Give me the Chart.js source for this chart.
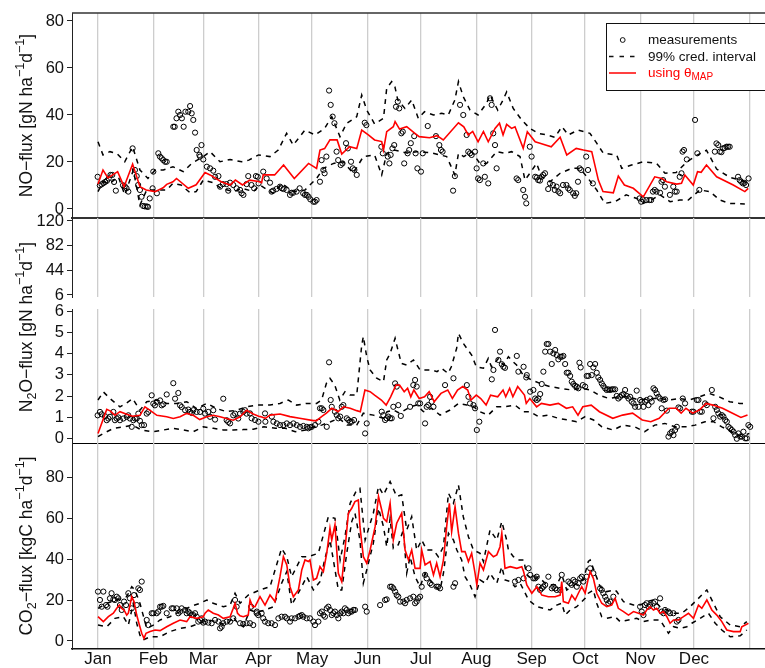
<!DOCTYPE html>
<html><head><meta charset="utf-8">
<script src="https://cdn.jsdelivr.net/npm/chart.js@4/dist/chart.umd.min.js"></script>
<style>
html,body{margin:0;padding:0;background:#fff;overflow:hidden;}
#wrap{position:relative;width:765px;height:668px;}
canvas{position:absolute;left:0;top:0;}
</style></head><body>
<div id="wrap">
<canvas id="cNO" width="765" height="668"></canvas>
<canvas id="cN2Ohi" width="765" height="668"></canvas>
<canvas id="cN2Olo" width="765" height="668"></canvas>
<canvas id="cCO2" width="765" height="668"></canvas>
</div>
<script>
// ---------------- DATA (day of year, value) ----------------
const monthLabels = ['Jan','Feb','Mar','Apr','May','Jun','Jul','Aug','Sep','Oct','Nov','Dec',''];
const monthStartDays = [0,31,59,90,120,151,181,212,243,273,304,334,365];
const noTicks = [0,20,40,60,80];
const n2oHiTicks = [6,44,82,120];
const n2oLoTicks = [0,1,2,3,4,5,6];
const co2Ticks = [0,20,40,60,80];
const legendLabels = ['measurements','99% cred. interval','using \u03b8','MAP'];

const noMAP = [[0,10.6],[2.8,16.6],[5.6,13.2],[11,15.9],[14.6,9.5],[19.4,19.1],[23.5,9.5],[27,8.1],[32,7.4],[36.5,9],[38.5,10.5],[42,11.6],[44,13],[50.6,8.8],[55,10.3],[60,15.5],[62.8,14.5],[69,11.6],[74,10.2],[77,12.3],[81,10.2],[85,12.3],[90,11.7],[91.7,11.2],[92.6,14.5],[99,14.5],[104,18.7],[110,13],[118,19.4],[122.5,17.3],[124.4,25.1],[127,25.7],[130,29.4],[134,29.4],[136.6,23.4],[141,26.5],[145,25.7],[147.8,33.6],[151.5,31.5],[155,29.4],[159,28.7],[160,25.1],[161.8,32.9],[165.5,35],[166.5,37.2],[169,34],[173,35],[177.6,32.2],[180,30.8],[185.8,30.3],[190,31.2],[193.5,29.4],[202,36.7],[205,35],[207.5,31.5],[210,33],[213,28.6],[216,33],[218.7,28.6],[222.5,34.3],[225,36.5],[227,31.5],[229,36],[231.8,34.3],[233.7,35],[238.3,25.8],[240.6,32.9],[245,28.6],[247.7,28],[254,26.5],[259,30.5],[262.7,23],[268,25.8],[272,25.1],[276.7,24.4],[280.4,12.3],[283,7.4],[288.8,6.9],[291.6,14],[295,10.2],[300,8.8],[305.6,5.2],[312,13.7],[316,13],[318.7,11.6],[324.3,10.6],[327,10.9],[328.9,14.5],[333.6,10.2],[336,15.9],[338,15.6],[341,18.7],[346.7,13.7],[356,10.2],[362.5,7.4],[364.4,8.8]];
const noUpper = [[0,28.6],[2.8,23],[6.7,24.4],[10.5,23.7],[15,20.1],[19.4,26.5],[23.5,16.6],[28,13],[32,16.6],[36.6,16.6],[42,18],[47.8,15.9],[52.5,19.4],[59,22.3],[62.8,24.4],[68.4,20.1],[74,21.1],[80.5,20.1],[84.5,20.8],[90,23],[96.4,22.3],[101,25.1],[105.7,32.2],[109.4,27.2],[116,33.6],[121.6,31.5],[127,34.3],[131,39.3],[135.6,30.8],[139.4,36.5],[145,39.3],[147.8,48.5],[150.6,42.1],[155,36.2],[160,38.6],[161.8,51.4],[164.6,54.2],[166.4,52],[168,46.4],[172,42.8],[175.8,46.4],[179.5,38.6],[183,41.4],[188,40],[192.6,40.7],[196.3,40],[200,46.4],[202,54.2],[204.7,47.8],[208.5,42.1],[213,40],[217.8,45],[219.7,48.5],[224,42.1],[227,46.4],[229,49.8],[232.7,42.8],[237.4,37.9],[242,34.3],[246.7,32.2],[251.5,31.5],[256,30.5],[260,35],[263.6,31.5],[269,33.6],[275.7,32.2],[279.5,28],[283.2,23.7],[290.7,23],[293.5,17.3],[299,18.7],[305.6,20.1],[313,19.4],[317.8,15.2],[324,15.5],[330,20],[336,23],[341,25],[346.7,17],[354,13.5],[363.6,11.5]];
const noLower = [[0,7.4],[2.8,11.6],[6.7,10.9],[11.4,13.7],[15,6],[19.8,16.6],[23.5,1.7],[27.3,8.1],[38.5,8.1],[42,10.9],[46.5,10.2],[51.6,6.9],[55,7.4],[59,12.3],[64.6,11.2],[69,8.8],[75.8,7.4],[81,8.8],[87,7.4],[90.8,10.2],[98,6.7],[103,10.9],[109.4,7.4],[116,8.1],[122.5,13],[126.3,17.3],[132,19.4],[137.5,20.1],[143,15.2],[148.7,22.3],[155,23],[159,14.5],[161.8,23.7],[166,25.1],[174,23.7],[178.6,24.4],[187,23.9],[195.4,22.3],[200,14.5],[202,23.7],[205,22.3],[209.4,24.4],[214,19.4],[217.8,19.4],[223.4,24.4],[228,23.7],[231.8,24.4],[236.5,22.3],[239.3,12.3],[242,15.2],[245.8,19.4],[248.6,13.7],[253.3,11.6],[259,15.2],[265.5,17.3],[270,17.3],[274,13.7],[279.5,8.1],[284,2.4],[289.7,3.1],[296,6],[302,4.5],[305.6,2.4],[310,3.8],[315,6],[320.6,3.1],[326,3.8],[330.8,3.8],[337.3,8.1],[342.9,7.4],[348.5,3.8],[354,2.4],[362.5,2.1]];
const noMeas = [[-0.2,13.7],[1,10],[2,10.5],[3,11],[4,11.5],[5,12],[6,13],[7,14.5],[8,14.5],[9,11.5],[10,7.8],[14,10.1],[15,9.7],[16,8.8],[17,7.4],[19.4,25.8],[20.7,16.6],[21.7,14],[22.5,10.2],[23.5,8.1],[24.4,5.2],[25.3,1.3],[26.3,1.1],[27.3,1.1],[28,0.9],[29,4.5],[30.6,8.8],[31,15.9],[33,6.7],[33.8,23.7],[34.7,22.3],[35.7,21.6],[36.6,20.8],[37.6,20.1],[38.5,20.1],[42.2,35],[43,35],[44,38.6],[45,41.4],[46,40],[47,38.6],[48,35],[49,41.4],[50.6,41.4],[51.6,43.8],[52.5,40.7],[53.4,37.9],[54.4,32.5],[55.3,25.1],[56.8,23],[57.2,22.3],[58,27.2],[59,21.1],[61,18],[62.8,17.3],[64.6,16.3],[65.6,13.7],[67.5,14],[68.4,9.5],[70,10.6],[72,10.6],[73,7.8],[74,11.2],[75.8,10.2],[77.7,8.8],[79.6,8.1],[80.5,6.7],[81.5,6],[83.3,10.6],[84.2,14],[86,10.2],[87.5,8.8],[88.5,14],[89.5,13.7],[90,10.9],[92.6,15.9],[94.5,13],[96.4,11.2],[97.3,7.4],[98.2,7.8],[100,8.5],[102,9.5],[103,8.8],[104,8.5],[105.7,8.1],[107.6,6],[108.5,6.9],[109.4,6.9],[111.3,7.4],[113,8.8],[115,6.7],[116,6],[117,6],[118,5.2],[119,4.1],[120.7,3.1],[121.6,3.1],[122.5,3.8],[124.4,11.6],[125.3,20.8],[126.3,16.6],[127,15.2],[128,22.3],[129.5,50.4],[130.4,44.3],[131.5,39.3],[132.5,36.5],[133.7,24.4],[134.6,20.8],[136,18.7],[137,19.4],[139,28],[140,25.8],[141.8,20.1],[142.8,17.3],[143.7,16.6],[145,14.5],[149.5,36.7],[150.4,35.7],[158.8,26.5],[159.6,23.7],[162.4,22.3],[163.3,19.4],[164,23],[165,25.8],[166,27.2],[167,43.5],[168,45.7],[168.8,42.8],[170,32.2],[170.8,32.9],[171.6,19.4],[173.5,23.7],[174.4,25.1],[175.3,28],[177.2,31],[178,23.7],[179,17.3],[181,15.9],[182,23.7],[184.8,35.3],[189.4,31],[191.3,27.2],[192.2,25.1],[193.1,24.4],[199,7.8],[200,14],[202.9,44.3],[204.7,40],[206.6,31.5],[207.5,24.4],[208.5,23.7],[209.4,23],[211.3,24.4],[212.2,17.3],[213,13],[214,12.3],[215.9,19.4],[216.8,13.7],[218.7,10.9],[219.7,47.1],[220.6,44.3],[221.5,32.2],[222.5,27.2],[223.4,17.3],[234.6,13],[235.5,12.3],[238.3,8.1],[239.3,5.2],[240,2.4],[242,26.5],[243,22.3],[245,13.7],[246,13.4],[246.7,12.3],[247.7,12.1],[248.6,13.7],[249.5,14.5],[250.5,15.2],[252.3,8.5],[253.3,10.9],[255,10.2],[256,8.1],[257,9.5],[258,7.4],[259,6.7],[260.6,10.2],[262.5,10.2],[263.5,8.8],[264.4,8.1],[266.3,6.7],[267.2,5.6],[268,6.7],[269,11.6],[269.9,17.3],[270.8,16.6],[273.6,22.3],[274.6,16.6],[277.3,10.9],[303.5,4.5],[304.4,3.1],[305.3,4.1],[307.3,3.8],[309,3.8],[310,3.8],[311,7.4],[312,8.1],[313,7.4],[315,6.9],[315.8,11.6],[316.7,12.3],[317.7,9.5],[320.5,6],[322.4,9.5],[323.3,7.4],[324.3,7.4],[326,13.7],[327,15.2],[327.6,24.4],[328.4,25.1],[330,21.1],[334.6,37.9],[335.9,23.7],[337,8.1],[345.7,24.4],[346.6,27.9],[347.6,27.2],[348.5,24.4],[349.4,24.2],[350.3,25.8],[351.2,26],[352.2,26.5],[353.1,26.5],[354,26.5],[358.7,13.7],[359.6,12.3],[360.5,11.6],[361.4,10.9],[362.3,11.1],[363.2,10.2],[364.6,13]];

const n2oMAP = [[0,0.25],[4.9,1.38],[7,1.3],[9.5,1.1],[12.3,1.27],[15.7,1.16],[19.4,1.06],[23.5,1.1],[26.3,1.5],[29,1.34],[33,1.1],[38.5,1.03],[42.2,0.95],[46,1.03],[49.7,1.19],[53.4,1.1],[57,0.9],[61,1.03],[64.6,1.1],[68.4,1.03],[72,0.95],[75.8,0.87],[79.6,1.03],[83.3,1.34],[87,1.16],[90,1.06],[91,1.04],[93.8,0.96],[96.4,1.11],[102,1.16],[107.6,1.04],[113,0.96],[120.7,0.85],[122.5,0.85],[125.3,1.04],[128,1.2],[131,1.43],[133,1.35],[134.5,1.27],[137.6,1.5],[141.3,1.43],[145,1.32],[147,1.27],[149.6,2.29],[152.5,2.21],[155,2.05],[158.8,1.82],[161.5,1.58],[164,1.97],[167,2.52],[169,2.52],[171.6,2.21],[173.5,2.37],[175.3,1.97],[177,2.29],[180,1.89],[183,1.97],[185.6,2.21],[188.4,1.74],[192.2,2.13],[196,2.29],[198.6,1.89],[201.5,2.29],[204.4,2.45],[207.2,2.29],[209,1.82],[212,2.05],[214.5,1.89],[217.5,1.58],[220,2.05],[224,1.97],[227,2.29],[228.5,1.97],[230.7,2.37],[232.5,1.97],[235.2,2.45],[239,2.05],[240,1.66],[242,1.89],[245.8,1.5],[248.5,1.66],[253.3,1.58],[258,1.66],[262.5,1.43],[266,1.5],[269,1.11],[271.7,1.5],[276.4,1.58],[281,1.27],[288.5,0.96],[294,1.11],[299.6,1.2],[305,0.88],[309.8,0.8],[314.5,0.96],[320,1.43],[324,1.43],[326.8,1.2],[329.5,1.43],[333.3,1.2],[337,1.35],[340.8,1.66],[344.6,1.58],[350,1.43],[355.6,1.2],[360.3,1.0],[364,1.11]];
const n2oUpper = [[0,1.82],[3,2.2],[6.7,1.89],[12.3,1.5],[15.7,1.66],[19.4,1.89],[23.5,1.34],[27.3,1.74],[33,1.82],[38.5,1.66],[44,1.66],[49.7,1.74],[55.3,1.42],[61,1.66],[66.5,1.42],[72,1.27],[77.7,1.34],[83.3,1.5],[89,1.58],[91,1.58],[96.4,1.58],[102,1.66],[106.7,1.82],[111.3,1.58],[117,1.66],[122.5,1.66],[125.3,1.82],[128,2.6],[130,2.84],[132.7,2.52],[135.5,1.82],[138.4,2.21],[141.3,2.05],[145,2.05],[147.8,4.4],[148.7,4.8],[150.6,3.85],[152.5,3.23],[156.2,2.84],[160,2.68],[161.8,3.7],[163.7,4.0],[166.5,4.72],[168.3,4.1],[170,3.54],[173,3.46],[176.8,3.7],[180.5,3.23],[184.3,3.23],[187,3.23],[190,3.15],[192.5,3.31],[196.2,3.07],[198,3.38],[201,4.25],[202,4.95],[204.7,4.48],[209.4,3.93],[212,3.38],[216,3.31],[218.7,3.77],[220.5,3.38],[224.4,3.77],[227.2,3.46],[230,3.85],[232.6,3.62],[234.6,3.46],[238.3,2.99],[243,2.76],[247.7,2.6],[253.3,2.45],[259,2.37],[265.5,2.29],[271.2,2.37],[276,2.29],[280.7,2.05],[286.3,1.89],[292,1.97],[297.5,1.97],[303,1.82],[308.7,1.89],[314.3,1.89],[320,1.82],[325.6,1.89],[331.2,1.82],[337,1.97],[342.5,2.13],[348,1.97],[354,1.74],[359.6,1.66],[364.3,1.66]];
const n2oLower = [[0,0.1],[3,0.25],[8.8,0.49],[14.4,0.56],[19.4,0.64],[24.4,0.41],[30.6,0.33],[36.6,0.41],[42.2,0.49],[47.8,0.41],[53.4,0.33],[59,0.56],[64.6,0.49],[70.2,0.41],[75.8,0.41],[81.5,0.43],[87,0.45],[93,0.56],[99.5,0.49],[105,0.49],[110.6,0.33],[116.3,0.41],[121,0.56],[125.3,0.64],[130.4,0.8],[135,0.96],[139.6,0.64],[145,0.64],[148.7,1.2],[154.3,1.11],[160,0.96],[162,1.27],[165.5,1.35],[169,1.2],[175,1.5],[178.6,1.58],[182.4,1.27],[187,1.43],[191.7,1.11],[197.3,1.35],[202,1.66],[206.6,1.58],[209.4,1.58],[214,1.27],[218.7,1.11],[223.4,1.5],[228,1.5],[233.7,1.58],[238.5,1.27],[242,1.27],[246.8,1.04],[252.4,1.11],[258,0.96],[263.6,0.88],[268.2,0.8],[273,1.04],[277.7,0.88],[282.4,0.56],[288.7,0.41],[294.3,0.64],[300.8,0.56],[306.4,0.33],[312,0.64],[317.7,0.72],[323.3,0.56],[329.9,0.56],[334.6,0.64],[340.2,0.8],[345,0.8],[349.6,0.56],[355,0.33],[360.6,0.1],[365,0.25]];
const n2oMeas = [[-0.2,1.1],[1.1,1.26],[2.1,1.15],[3.9,1.06],[4.9,0.87],[5.8,0.95],[6.7,1.03],[8.6,1.26],[9.5,0.87],[10.5,0.95],[11.4,1.0],[12.3,0.87],[14.2,0.95],[16.1,1.03],[17,1.1],[17.9,0.95],[18.9,0.56],[19.8,0.87],[20.7,0.95],[21.7,0.95],[22.6,1.18],[23.5,0.84],[24.5,0.64],[25.8,0.64],[27.3,1.18],[28.2,1.26],[30.1,2.04],[31,1.65],[31.9,1.57],[32.9,1.73],[34.8,1.8],[35.7,1.57],[36.6,1.62],[38.5,2.08],[42.2,2.61],[43.2,1.88],[45,2.15],[46,1.57],[46.9,1.49],[48.8,1.34],[50.6,1.37],[51.6,1.26],[52.5,1.21],[53.4,1.34],[55.3,1.26],[57.2,1.26],[59,1.41],[60,1.18],[61.8,1.26],[62.8,1.03],[64.6,1.34],[65.6,0.9],[70.2,1.88],[72.1,0.87],[73,0.79],[74,0.72],[75.8,1.1],[76.8,1.18],[78.6,0.95],[79.6,1.18],[81.4,1.26],[82.4,1.34],[83.3,1.18],[85.2,1.19],[86.1,0.96],[88,0.88],[89.9,0.8],[93.6,1.19],[93.8,0.8],[97.4,1.04],[98.3,0.8],[100.2,0.72],[102,0.64],[103.9,0.64],[105.8,0.72],[107.6,0.64],[109.5,0.72],[111.4,0.64],[113.2,0.56],[115.1,0.6],[117,0.56],[117.9,0.49],[118.8,0.54],[119.8,0.56],[121.6,0.64],[123.5,0.8],[124.4,1.43],[125.4,1.43],[126.3,1.35],[128.2,0.56],[129.5,3.59],[130.4,1.82],[131,1.5],[132.8,1.27],[133.8,1.11],[134.7,0.96],[135.7,1.04],[136.6,1.5],[137.5,1.58],[139.4,0.96],[140.3,0.88],[141.3,0.8],[142.2,0.8],[143.5,0.88],[149.7,0.25],[150.6,0.72],[159,1.27],[159.9,1.11],[160.9,0.88],[161.8,0.96],[162.7,1.04],[163.7,0.96],[164.6,0.96],[165.5,1.5],[166.5,2.6],[167.4,2.45],[168.3,1.58],[169.7,1.07],[174.9,1.5],[176.7,2.52],[177.7,2.76],[178.6,2.45],[179.5,1.66],[180.5,1.66],[183.3,0.72],[184.2,1.5],[185.1,1.58],[186.1,1.97],[187,1.74],[188,1.5],[194.5,2.52],[199.2,2.84],[206.7,2.52],[207.6,1.97],[208.5,1.66],[210.4,1.58],[211.3,1.43],[212.3,0.41],[213.7,0.8],[220.7,2.79],[221.6,3.23],[222.5,5.11],[224.4,3.7],[225.3,4.09],[226.3,3.5],[227.2,3.38],[228.1,3.33],[234.7,3.89],[235.6,3.15],[238.5,3.38],[240,2.88],[240.3,2.99],[242.2,2.21],[244,2.29],[245,1.89],[245.9,1.82],[246.8,1.89],[247.8,2.1],[248.7,2.57],[249.6,3.15],[250.6,4.09],[251.5,4.45],[252.4,4.45],[253.4,4.09],[254.3,3.51],[255.2,4.01],[256.2,4.17],[257.1,3.93],[258,3.73],[259,3.85],[259.9,3.85],[260.8,3.89],[261.8,3.51],[262.7,3.1],[263.6,3.1],[264.6,2.95],[265.5,2.68],[266.4,2.57],[267.4,2.48],[268.3,2.45],[269.2,2.37],[269.8,3.57],[270.5,3.35],[271.7,2.52],[273,2.45],[273.9,2.95],[274.8,2.95],[275.8,3.51],[276.7,2.99],[277.6,3.35],[278.6,3.51],[279.5,3.1],[280.4,2.88],[281.4,2.76],[282.3,2.6],[283.2,2.48],[284.2,2.37],[285.1,2.29],[286,2.32],[287,2.29],[287.9,2.32],[288.8,2.32],[289.8,2.32],[290.7,2.01],[291.6,1.89],[292.6,1.97],[293.5,2.05],[294.5,2.1],[295.4,2.29],[296.3,2.01],[297.3,1.89],[298.2,1.97],[299.1,1.74],[300.1,1.66],[301,1.5],[301.9,2.26],[302.9,1.5],[303.8,1.82],[304.7,1.74],[305.7,1.5],[306.6,1.74],[307.5,1.82],[308.5,1.58],[309.4,1.89],[310.3,1.74],[311.3,2.37],[312.2,2.29],[313.1,2.13],[314.1,1.97],[315,1.89],[315.9,1.43],[316.9,1.82],[317.8,1.85],[318.8,1.32],[319.7,0.1],[320.6,0.25],[321.6,0.33],[322.5,0.17],[323.4,0.41],[324.4,0.56],[325.3,1.47],[326.2,1.43],[327.7,1.89],[329,1.66],[332.8,1.27],[333.7,1.27],[335.6,1.82],[336.5,1.82],[337.4,1.27],[338.4,1.27],[340.2,1.66],[341.2,1.58],[344,2.29],[344.9,0.96],[345.9,1.5],[346.8,1.35],[347.7,1.19],[348.7,1.04],[349.6,1.11],[350.5,1.04],[351.5,0.88],[352.4,0.8],[353.3,0.56],[354.3,0.49],[355.2,0.41],[356.1,0.33],[357.1,0.17],[358,0],[358.9,0.25],[359.9,0.1],[360.8,0.1],[361.7,0.33],[362.7,0.02],[363.6,0.02],[364.5,0.64],[365.5,0.56]];

const co2MAP = [[0,11.9],[3,9.5],[5.8,11.9],[8.6,13.6],[10.5,16],[12,17.6],[13.3,16],[14.6,15.2],[16.1,12.7],[17,13.6],[18.9,21.7],[20.2,19.3],[21.7,12.7],[23.2,7.8],[24.5,3.8],[25.8,1.3],[26.9,3.8],[29.2,4.6],[32,5.4],[34.8,5.1],[38.5,7],[42.2,8.7],[46,10.3],[49.7,9.5],[51.6,11.9],[55.3,11.1],[59,11.9],[60,13.6],[61.8,15.2],[64.6,13.6],[67.5,12.7],[70.2,11.1],[74,11.9],[75.8,16],[76.8,18.5],[78.2,13.6],[79.6,12.3],[81.4,11.9],[84.2,12.7],[85.2,20.1],[86.7,16.8],[88,16.8],[90.8,21.7],[93.6,17.6],[96.4,22.5],[99.2,19.3],[102,31.5],[103.9,41.3],[105.8,37.3],[107.6,26.6],[109.5,21.7],[112.3,25],[114.2,34.8],[116,39.7],[117.9,38.9],[118.8,39.7],[120.7,29.9],[122.5,30.7],[124.4,36.4],[126.3,34],[128.2,43],[130,55.2],[131,49.5],[132.8,56.9],[134.7,33.2],[136.6,29.1],[138.4,44.6],[140.3,62.6],[142.2,65],[144,68.3],[145.9,69.1],[146.8,56],[148.7,41.3],[150.6,38.1],[152.5,44.6],[155.3,56],[157.2,70.8],[159,64.2],[160,60.1],[161.8,58.5],[163.7,67.5],[165.5,49.5],[167.4,57.7],[170.2,62.6],[172.1,44.6],[174,39.7],[175.8,44.6],[177.7,35.6],[180.5,35.6],[181.4,44.6],[183.3,37.3],[186.1,38.9],[188,32.4],[189.8,38.1],[191.7,31.5],[193.6,39.7],[195.4,56],[196.9,67.5],[198.2,53.6],[200.1,65.8],[202,52.8],[203.8,43.8],[205.7,43.8],[207.6,38.9],[209.4,43],[211.3,33.2],[212.3,27.5],[214.1,38.1],[216,34.8],[218.8,43.8],[221.6,41.3],[223.5,42.2],[225.3,46.2],[226.3,52.8],[228.1,35.6],[231,36.4],[234.7,35.6],[237.5,36.4],[238.5,34],[240.3,27.5],[243.1,23.4],[246,26.6],[248.7,22.5],[252.4,21.7],[256.2,21.7],[259,22.5],[259.9,29.1],[260.8,19.3],[263.6,18.5],[265.5,22.5],[267.4,20.1],[269.2,23.4],[271.1,26.6],[273,23.4],[274.8,30.7],[275.8,34],[277.6,30.7],[279.5,23.4],[282.3,18.5],[285.1,16.8],[287.9,17.6],[289.8,20.9],[291.6,16],[294.5,14.4],[297.3,12.7],[300.1,14.4],[302.9,13.6],[305.7,12.7],[307.5,15.2],[309.4,16.8],[311.3,15.2],[313.1,16],[315,13.6],[316.9,14.4],[318.8,11.9],[320.6,8.7],[322.5,10.3],[325.3,10.3],[328.1,11.9],[330.9,13.6],[333.7,11.1],[336.5,17.6],[338.4,16],[341.2,20.1],[344,15.2],[346.8,12.7],[349.6,9.5],[352.4,5.4],[356.1,4.6],[359.9,4.6],[360.8,7],[362.7,7.8],[364.5,8.7]];
const co2Upper = [[0,16],[4.9,18.5],[10.5,20.1],[16.1,21.7],[18.9,26.6],[20.7,25],[23.5,18.5],[27.3,6.2],[31,7.8],[34.8,10.3],[40.3,11.9],[46,14.4],[51.6,16.8],[57.2,18.5],[61,20.1],[64.6,18.5],[70.2,16.8],[74,17.6],[76.8,23.4],[79.6,18.5],[84.2,22.5],[90.8,25],[96.4,26.6],[102.9,45.4],[105.8,41.3],[108.5,31.5],[114.2,41.3],[117.9,41.3],[123.5,43],[129.1,60.9],[132.8,60.1],[135.7,39.7],[138.4,51.1],[141.3,67.5],[145,74],[146.8,74.8],[149.7,49.5],[154.3,62.6],[157.2,75.7],[160,71.6],[163.7,78.1],[167.4,70.8],[170.2,71.6],[173,54.4],[175.8,60.9],[178.6,44.6],[181.4,49.5],[184.2,44.6],[188,44.6],[190.7,41.3],[193.6,46.2],[196.4,72.4],[199.2,67.5],[202,76.5],[204.7,60.9],[207.6,51.1],[210.4,44.6],[214.1,43],[216,38.9],[219.7,54.4],[223.5,49.5],[226.3,58.5],[229,49.5],[230,44.6],[232.8,41.3],[235.6,39.7],[238.5,39.7],[240.3,32.4],[244,29.9],[246.8,31.5],[250.6,28.3],[253.4,27.5],[257.1,27.5],[259.9,32.4],[262.7,25],[265.5,26.6],[268.3,28.3],[272,29.9],[274.8,39],[275.8,39.7],[278.6,33.2],[281.4,26.6],[285.1,24.2],[289.8,25],[290.7,24.2],[294.5,19.3],[300.1,17.6],[303.8,17.6],[307.5,19.3],[311.3,20.1],[315,16.8],[318.8,15.2],[322.5,13.6],[327.2,13.6],[331.8,16.8],[335.6,20.1],[341.2,25],[344.9,18.5],[348.7,11.9],[354.3,7.8],[359.9,7],[363.6,9.5]];
const co2Lower = [[0,7.8],[4.9,7],[9.5,11.1],[14.2,11.9],[17,7.8],[19.8,18.5],[21.7,8.7],[23.5,2.9],[25.3,0.5],[29.2,2.1],[34.8,2.1],[40.3,4.6],[46,6.2],[51.6,7],[57.2,8.7],[61.8,10.3],[66.5,9.5],[72.1,7.8],[75.8,11.9],[77.7,9.5],[81.4,7],[85.2,15.2],[88.9,14],[93.6,15.2],[98.3,16.8],[102.9,28.3],[105.8,34],[108.5,17.6],[113.2,25],[117,31.5],[120.7,25],[124.4,29.1],[127.2,40.5],[130,49.5],[131.9,39.7],[134.7,25],[136.6,25],[139.4,43],[142.2,58.5],[144,62.6],[146.8,49.5],[148.7,28.3],[150.6,34.8],[154.3,47.9],[157.2,65],[160,56],[161.8,46.2],[163.7,60.1],[165.5,45.4],[168.3,47.1],[171.1,54.4],[173,33.2],[174.9,41.3],[177.7,31.5],[180.5,26.6],[183.3,33.2],[186.1,29.9],[189,26.6],[191.7,25],[193.6,33.2],[196.4,52.8],[199.2,49.5],[201.1,44.6],[203.8,39.7],[205.7,31.5],[208.5,27.5],[211.3,21.7],[214.1,29.9],[217,28.3],[219.7,33.2],[223.5,28.3],[226.3,36.4],[228.1,29.9],[231,29.1],[233.7,26.6],[236.6,28.3],[241.3,20.1],[245.9,16.8],[249.6,16],[253.4,15.2],[257.1,17.6],[259.9,18.5],[261.8,12.7],[264.6,15.2],[268.3,16.8],[273,20.9],[274.8,23.4],[277.6,25],[279.5,18.5],[282.3,11.9],[285.1,11.1],[289.8,11.9],[292.6,9.5],[297.3,10.3],[301.9,11.1],[305.7,9.5],[310.3,10.3],[315,10.3],[319.7,3.8],[322.5,7],[326.2,6.2],[330,7],[332.8,8.7],[337.4,11.1],[342.1,13.6],[345.9,8.7],[349.6,5.4],[354.3,2.1],[359.9,2.5],[363.6,5.4]];
const co2Meas = [[0,24.2],[1.1,20.1],[2.1,16.8],[3,24.2],[4.5,17.6],[5.3,16.8],[6.7,20.9],[7.6,23.4],[8.6,20.4],[9.5,20.1],[10.5,21.7],[11.4,20.9],[12.3,17.6],[13.3,15.2],[14.6,19.3],[15.7,17.6],[17,23.4],[17.9,20.9],[18.9,16],[20.2,22.5],[21.7,17.6],[22.6,25.8],[23.5,25],[24.5,29.1],[27.3,10.3],[28.2,7.8],[30.1,13.6],[31,13.6],[32.9,13.6],[33.8,14.4],[34.8,16.8],[35.7,16.8],[36.6,17.2],[38.5,13.6],[41.3,16],[42.2,16],[44.1,16],[45,13.6],[46,14.4],[46.9,16],[48.8,15.2],[49.7,13.6],[50.6,14.4],[51.6,13.6],[52.5,12.7],[53.4,12.7],[54.4,13.6],[55.3,11.9],[56.2,9.5],[57.2,10.3],[58.1,11.1],[59,9],[60,9.5],[61.8,9],[63.7,8.7],[65.6,10.3],[67.5,9.5],[68.4,6.2],[69.3,7],[70.2,8.7],[72.1,9.5],[74,9.5],[75.8,11.1],[76.8,20.1],[77.7,16.8],[79.6,8.7],[81.4,8.3],[83.3,8.7],[85.2,8.7],[87,7.8],[89,14.4],[85.8,16.8],[88.9,13.6],[89.8,12.7],[91.7,13.6],[92.6,11.1],[93.6,9.5],[95.4,8.7],[97.3,8.7],[99.2,7.8],[101.1,11.1],[102.9,11.9],[104.8,11.9],[105.8,11.1],[107.6,9.5],[108.5,11.1],[110.4,11.1],[112.3,11.9],[113.2,12.3],[114.2,12.7],[115.1,11.9],[117,11.1],[118.8,11.1],[120.7,9.5],[121.6,7.8],[123.5,9.5],[124.4,13.6],[125.4,14.4],[126.3,12.7],[127.2,11.9],[128.2,16],[129.1,16.8],[130,15.2],[131,12.7],[131.9,13.6],[132.8,14.4],[133.8,12.7],[134.7,11.1],[135.7,13.6],[136.6,14.4],[137.5,13.6],[138.4,16],[139.4,15.2],[140.3,13.6],[141.3,14.4],[142.2,14.4],[143.1,15.2],[144,15.2],[149.7,16.8],[150.6,14.4],[158.1,17.6],[160.9,20.1],[161.8,20.4],[163.7,26.6],[164.6,26.6],[165.5,25.8],[166.5,24.2],[167.4,22.5],[168.3,21.7],[169.3,19.3],[171.1,19.3],[172.1,18.5],[173,20.1],[174.9,20.9],[176.7,21.7],[177.7,18.5],[178.6,19.3],[179.5,20.9],[180.5,21.7],[181.4,26.6],[183.3,32.4],[184.2,30.7],[186.1,28.3],[187,27.5],[189.8,26.6],[190.7,26.6],[191.7,25.8],[199.2,26.6],[200.1,28.3],[233.7,29.1],[235.6,29.9],[238.5,30.7],[241.3,35.6],[242.2,32.4],[244,30.7],[245,30.7],[245.9,31.5],[246.8,26.6],[247.8,25],[248.7,25.8],[249.6,26.6],[250.6,27.5],[252.4,31.5],[254.3,25.8],[255.2,26.6],[256.2,25.8],[257.1,25],[259,25],[259.9,32.4],[263.6,29.1],[264.6,28.3],[265.5,27.5],[266.4,29.9],[267.4,29.1],[268.3,26.6],[269.2,28.3],[270.2,30.7],[271.1,31.5],[272,29.1],[273.9,31.5],[275.8,35.6],[277.6,33.2],[281.4,25.8],[282.3,25],[283.2,23.4],[284.2,21.7],[285.1,20.1],[286,18.5],[287,19.3],[288.8,21.7],[303.8,16.8],[304.7,14.4],[305.7,12.7],[306.6,17.6],[307.5,18.5],[308.5,16.8],[309.4,17.6],[311.3,18.5],[312.2,19.3],[313.1,16.8],[315,20.9],[315.9,14.4],[316.9,13.6],[317.8,15.2],[319.7,14.4],[320.6,13.6],[322.5,13.6],[324.4,9.5],[325.3,10.3]];

// ---------------- LAYOUT ----------------
const FONT = "'Liberation Sans', Arial, Helvetica, sans-serif";
const W = 765, H = 668, LEFT = 72;
const X_MIN = -14.57, X_MAX = 373.8;

function pts(arr){ return arr.map(([x,y]) => ({x, y})); }

function xScale(showLabels, border){
  return {
    type:'linear', min:X_MIN, max:X_MAX, offset:false,
    afterBuildTicks: s => { s.ticks = monthStartDays.map(v => ({value:v})); },
    afterFit: s => { s.height = showLabels ? 19 : 0; },
    grid:{display:true, drawOnChartArea:true, drawTicks:false, color:'#cdcdcd', lineWidth:1.3},
    border: border,
    ticks:{display:showLabels, autoSkip:false, maxRotation:0, minRotation:0, padding:0, color:'#111',
           font:{family:FONT, size:17}, callback:(v,i) => monthLabels[i]}
  };
}
function yScale(min, max, ticks){
  return {
    type:'linear', min, max,
    afterBuildTicks: s => { s.ticks = ticks.map(v => ({value:v})); },
    afterFit: s => { s.width = LEFT; },
    grid:{drawOnChartArea:false, drawTicks:true, tickLength:5, color:'#222', lineWidth:1},
    border:{display:true, color:'#222', width:1},
    ticks:{padding:3, color:'#111', font:{family:FONT, size:16.5}, autoSkip:false, callback: v => String(v)}
  };
}
function seriesSets(map, up, lo, meas){
  return [
    {type:'line', data:pts(map), borderColor:'#ff0000', borderWidth:1.6, pointRadius:0, fill:false, tension:0},
    {type:'line', data:pts(up), borderColor:'#000', borderWidth:1.5, borderDash:[5,5], pointRadius:0, fill:false, tension:0},
    {type:'line', data:pts(lo), borderColor:'#000', borderWidth:1.5, borderDash:[5,5], pointRadius:0, fill:false, tension:0},
    {type:'scatter', data:pts(meas), showLine:false, pointRadius:2.6, pointBorderWidth:1, pointBorderColor:'#000', pointBackgroundColor:'rgba(0,0,0,0)'}
  ];
}

// rich-text rotated axis title
function drawTitle(ctx, cx, cy, segs, size){
  ctx.save();
  const parts = segs.map(s => {
    const fs = s.sub || s.sup ? size*0.72 : size;
    ctx.font = fs + 'px ' + FONT;
    return {t:s.t, fs, w:ctx.measureText(s.t).width, dy: s.sup ? -size*0.42 : (s.sub ? size*0.25 : 0)};
  });
  const total = parts.reduce((a,p) => a + p.w, 0);
  ctx.translate(cx, cy);
  ctx.rotate(-Math.PI/2);
  ctx.fillStyle = '#111';
  ctx.textBaseline = 'alphabetic';
  ctx.textAlign = 'left';
  let x = -total/2;
  for (const p of parts){
    ctx.font = p.fs + 'px ' + FONT;
    ctx.fillText(p.t, x, p.dy);
    x += p.w;
  }
  ctx.restore();
}
const M = '\u2212';
const titleNO = [{t:'NO'+M+'flux [gN ha'},{t:M+'1',sup:1},{t:'d'},{t:M+'1',sup:1},{t:']'}];
const titleN2O = [{t:'N'},{t:'2',sub:1},{t:'O'+M+'flux [gN ha'},{t:M+'1',sup:1},{t:'d'},{t:M+'1',sup:1},{t:']'}];
const titleCO2 = [{t:'CO'},{t:'2',sub:1},{t:M+'flux [kgC ha'},{t:M+'1',sup:1},{t:'d'},{t:M+'1',sup:1},{t:']'}];

function baseOptions(padTop, padBottom, scales){
  return {
    animation:false, responsive:false, devicePixelRatio:1, events:[],
    layout:{padding:{top:padTop, bottom:padBottom, left:0, right:0}, autoPadding:false},
    plugins:{legend:{display:false}, tooltip:{enabled:false}},
    scales
  };
}

// NO panel
new Chart(document.getElementById('cNO'), {
  type:'line',
  data:{datasets: seriesSets(noMAP, noUpper, noLower, noMeas)},
  options: baseOptions(13, H-218, {
    x: xScale(false, {display:true, color:'#333', width:2}),
    y: yScale(-3.83, 83.4, noTicks)
  }),
  plugins:[{
    id:'noDeco',
    afterDraw(chart){
      const ctx = chart.ctx, a = chart.chartArea;
      ctx.save();
      ctx.strokeStyle = '#333'; ctx.lineWidth = 1.5;
      ctx.beginPath(); ctx.moveTo(a.left, a.top); ctx.lineTo(a.right, a.top); ctx.stroke();
      // legend
      ctx.fillStyle = '#fff'; ctx.fillRect(606, 23, 200, 67);
      ctx.strokeStyle = '#111'; ctx.lineWidth = 1;
      ctx.strokeRect(606.5, 23.5, 200, 67);
      ctx.beginPath(); ctx.arc(622.7, 40, 2.4, 0, Math.PI*2); ctx.stroke();
      ctx.lineWidth = 1.5; ctx.setLineDash([4.5,6]);
      ctx.beginPath(); ctx.moveTo(609, 56.5); ctx.lineTo(636, 56.5); ctx.stroke();
      ctx.setLineDash([]);
      ctx.strokeStyle = '#ff0000';
      ctx.beginPath(); ctx.moveTo(609, 73); ctx.lineTo(636, 73); ctx.stroke();
      ctx.font = '13.5px ' + FONT; ctx.textBaseline = 'middle'; ctx.textAlign = 'left';
      ctx.fillStyle = '#111';
      ctx.fillText(legendLabels[0], 648, 40);
      ctx.fillText(legendLabels[1], 648, 57);
      ctx.fillStyle = '#ff0000';
      ctx.fillText(legendLabels[2], 648, 73);
      const w = ctx.measureText(legendLabels[2]).width;
      ctx.font = '10px ' + FONT;
      ctx.fillText(legendLabels[3], 648 + w, 77);
      ctx.restore();
      drawTitle(ctx, 31.5, (a.top + a.bottom)/2, titleNO, 17.5);
    }
  }]
});

// N2O upper (broken axis part)
new Chart(document.getElementById('cN2Ohi'), {
  type:'line',
  data:{datasets:[]},
  options: baseOptions(218, H-297, {
    x: xScale(false, {display:false}),
    y: yScale(2.9, 124.6, n2oHiTicks)
  }),
  plugins:[{
    id:'n2oTitle',
    afterDraw(chart){ drawTitle(chart.ctx, 31.5, 327, titleN2O, 17.5); }
  }]
});

// N2O lower
new Chart(document.getElementById('cN2Olo'), {
  type:'line',
  data:{datasets: seriesSets(n2oMAP, n2oUpper, n2oLower, n2oMeas)},
  options: baseOptions(309, H-443, {
    x: xScale(false, {display:true, color:'#000', width:1}),
    y: yScale(-0.2, 6.094, n2oLoTicks)
  })
});

// CO2 panel
new Chart(document.getElementById('cCO2'), {
  type:'line',
  data:{datasets: seriesSets(co2MAP, co2Upper, co2Lower, co2Meas)},
  options: baseOptions(443, 0, {
    x: xScale(true, {display:true, color:'#111', width:1.5}),
    y: yScale(-3.92, 97, co2Ticks)
  }),
  plugins:[{
    id:'co2Title',
    afterDraw(chart){ const a = chart.chartArea; drawTitle(chart.ctx, 31.5, (a.top + a.bottom)/2, titleCO2, 17.5); }
  }]
});
</script>
</body></html>
